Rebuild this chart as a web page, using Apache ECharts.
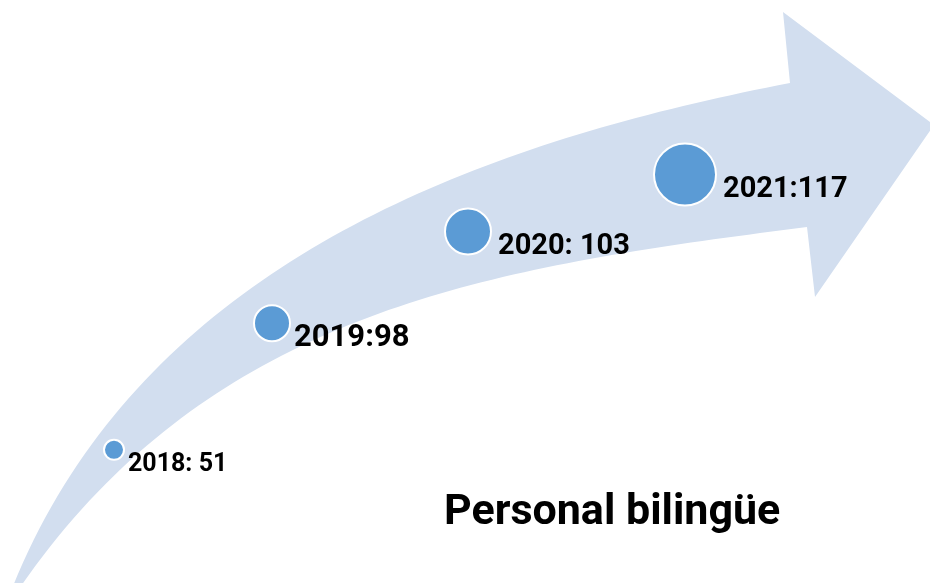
<!DOCTYPE html>
<html>
<head>
<meta charset="utf-8">
<script src="https://cdn.jsdelivr.net/npm/echarts@6/dist/echarts.min.js"></script>
<style>
  html, body { margin: 0; padding: 0; background: #ffffff; }
  #chart { width: 930px; height: 583px; }
</style>
</head>
<body>
<div id="chart"></div>
<script>
// ---- data ----
const years = ['2018', '2019', '2020', '2021'];
const values = [51, 98, 103, 117];
const labels = ['2018: 51', '2019:98', '2020: 103', '2021:117'];
const titleText = 'Personal bilingüe';

// ---- layout (pixel geometry of the decorative arrow and marker placement) ----
const upperEdge = [[13,586],[67,483],[100,433],[128,400],[200,323],[267,280],[333,237],[420,193],[500,160],[600,127],[700,103],[790,83]];
const lowerEdge = [[21,586],[67,527],[117,477],[200,403],[267,360],[333,330],[420,303],[533,273],[633,250],[733,233],[807,227]];
const arrowHead = [[783,12],[934,125],[815,297]];
const markerX = [114, 272, 468, 685];
const markerFrac = [0.57, 0.57, 0.52, 0.5];
const markerSize = [20, 36, 46, 62];
const labelSize = [25, 31, 29, 29];
const labelGap = [3, 3, 6, 6];

function bez(P, t) {
  const u = 1 - t;
  const b = [u*u*u, 3*u*u*t, 3*u*t*t, t*t*t];
  return [0, 1].map(k => b[0]*P[0][k] + b[1]*P[1][k] + b[2]*P[2][k] + b[3]*P[3][k]);
}
function bezD(P, t) {
  const u = 1 - t;
  return [0, 1].map(k => 3*u*u*(P[1][k]-P[0][k]) + 6*u*t*(P[2][k]-P[1][k]) + 3*t*t*(P[3][k]-P[2][k]));
}
function bezDD(P, t) {
  return [0, 1].map(k => 6*(1-t)*(P[2][k]-2*P[1][k]+P[0][k]) + 6*t*(P[3][k]-2*P[2][k]+P[1][k]));
}
function fitCubic(pts) {
  const P0 = pts[0], P3 = pts[pts.length - 1];
  const d = [0];
  for (let i = 1; i < pts.length; i++) d.push(d[i-1] + Math.hypot(pts[i][0]-pts[i-1][0], pts[i][1]-pts[i-1][1]));
  let ts = d.map(v => v / d[d.length - 1]);
  let C1 = [0, 0], C2 = [0, 0];
  for (let it = 0; it < 40; it++) {
    let A11 = 0, A12 = 0, A22 = 0;
    const X1 = [0, 0], X2 = [0, 0];
    pts.forEach((q, i) => {
      const t = ts[i], u = 1 - t;
      const b0 = u*u*u, b1 = 3*u*u*t, b2 = 3*u*t*t, b3 = t*t*t;
      A11 += b1*b1; A12 += b1*b2; A22 += b2*b2;
      for (let k = 0; k < 2; k++) {
        const r = q[k] - b0*P0[k] - b3*P3[k];
        X1[k] += b1*r; X2[k] += b2*r;
      }
    });
    const det = A11*A22 - A12*A12;
    C1 = [0, 1].map(k => (A22*X1[k] - A12*X2[k]) / det);
    C2 = [0, 1].map(k => (A11*X2[k] - A12*X1[k]) / det);
    const P = [P0, C1, C2, P3];
    ts = ts.map((t, i) => {
      if (i === 0 || i === pts.length - 1) return t;
      const B = bez(P, t), D1 = bezD(P, t), D2 = bezDD(P, t);
      const e = [B[0]-pts[i][0], B[1]-pts[i][1]];
      const f = e[0]*D1[0] + e[1]*D1[1];
      const fp = D1[0]*D1[0] + D1[1]*D1[1] + e[0]*D2[0] + e[1]*D2[1];
      const nt = t - f / fp;
      return Math.min(1, Math.max(0, nt));
    });
  }
  return [P0, C1, C2, P3];
}
function sampleCubic(P, n) {
  const out = [];
  for (let i = 0; i <= n; i++) out.push(bez(P, i / n));
  return out;
}
const upperS = sampleCubic(fitCubic(upperEdge), 80);
const lowerS = sampleCubic(fitCubic(lowerEdge), 80);
function yAt(poly, x) {
  for (let i = 0; i < poly.length - 1; i++) {
    const a = poly[i], b = poly[i + 1];
    if ((x >= a[0] && x <= b[0]) || (x <= a[0] && x >= b[0])) {
      const t = (x - a[0]) / ((b[0] - a[0]) || 1);
      return a[1] + t * (b[1] - a[1]);
    }
  }
  return poly[poly.length - 1][1];
}
const arrowPoints = upperS.concat(arrowHead, lowerS.slice().reverse());

const seriesData = years.map((y, i) => {
  const x = markerX[i];
  const top = yAt(upperS, x), bottom = yAt(lowerS, x);
  const cy = top + (bottom - top) * markerFrac[i];
  return {
    name: y,
    value: [x, cy, values[i]],
    symbolSize: markerSize[i],
    label: { fontSize: labelSize[i], distance: labelGap[i] }
  };
});

const chart = echarts.init(document.getElementById('chart'), null, { renderer: 'canvas' });
chart.setOption({
  backgroundColor: '#ffffff',
  animation: false,
  title: {
    text: titleText,
    left: 439,
    top: 487,
    textStyle: { fontFamily: 'Roboto', fontWeight: 'bold', fontSize: 43, color: '#000000' }
  },
  grid: { left: 0, right: 0, top: 0, bottom: 0 },
  xAxis: { type: 'value', min: 0, max: 930, show: false },
  yAxis: { type: 'value', min: 0, max: 583, inverse: true, show: false },
  graphic: {
    elements: [{
      type: 'polygon',
      z: -10,
      silent: true,
      shape: { points: arrowPoints },
      style: { fill: '#d2deef', stroke: null }
    }]
  },
  series: [{
    type: 'scatter',
    data: seriesData,
    itemStyle: { color: '#5b9bd5', borderColor: '#ffffff', borderWidth: 2, opacity: 1 },
    label: {
      show: true,
      position: 'right',
      offset: [0, 15],
      fontFamily: 'Roboto',
      fontWeight: 'bold',
      color: '#000000',
      formatter: p => labels[p.dataIndex]
    },
    z: 5
  }]
});
</script>
</body>
</html>
